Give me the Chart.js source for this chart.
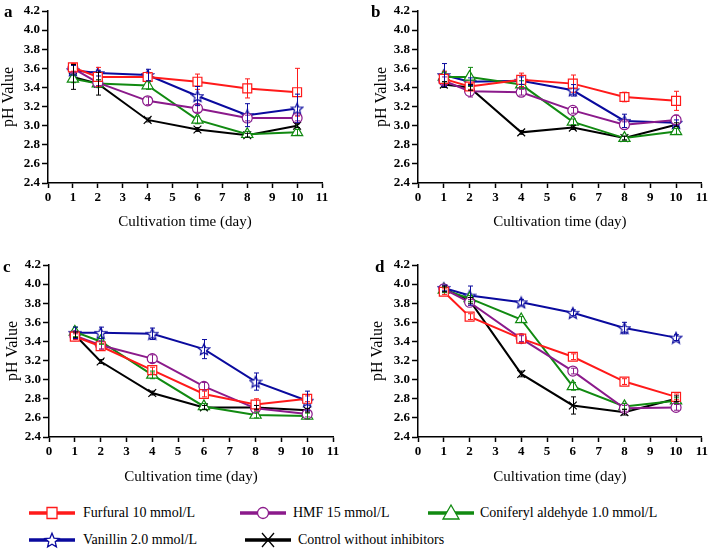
<!DOCTYPE html>
<html>
<head>
<meta charset="utf-8">
<script src="https://cdn.jsdelivr.net/npm/chart.js@4"></script>
<style>
  body { margin: 0; background: #fff; }
  #wrap { position: relative; width: 710px; height: 550px; font-family: "Liberation Serif", "Times New Roman", serif; color: #000; }
  .panel { position: absolute; }
  .tag { position: absolute; font-weight: bold; font-size: 17px; line-height: 17px; }
  .key { position: absolute; }
  .keytext { position: absolute; font-size: 14px; line-height: 20px; white-space: nowrap; }
</style>
</head>
<body>
<div id="wrap">
  <canvas id="pa" class="panel" width="355" height="230" style="left:0;top:0"></canvas>
  <canvas id="pb" class="panel" width="355" height="230" style="left:355px;top:0"></canvas>
  <canvas id="pc" class="panel" width="355" height="255" style="left:0;top:230px"></canvas>
  <canvas id="pd" class="panel" width="355" height="255" style="left:355px;top:230px"></canvas>
  <div class="tag" style="left:4px;top:3px">a</div>
  <div class="tag" style="left:371px;top:3px">b</div>
  <div class="tag" style="left:3px;top:258px">c</div>
  <div class="tag" style="left:375px;top:258px">d</div>
  <div id="legend"></div>
</div>
<script>
// sampling days and axis settings
const days = [1, 2, 4, 6, 8, 10];
const xMin = 0, xMax = 11, xStep = 1;
const yMin = 2.4, yMax = 4.2, yStep = 0.2;
const xTitle = 'Cultivation time (day)';
const yTitle = 'pH Value';

const seriesNames = ['Furfural 10 mmol/L', 'HMF 15 mmol/L', 'Coniferyl aldehyde 1.0 mmol/L',
  'Vanillin 2.0 mmol/L', 'Control without inhibitors'];
const seriesColors = ['#ff1a1a', '#8b1a8b', '#118a11', '#0a0a9e', '#000000'];
const seriesMarkers = ['rect', 'circle', 'triangle', 'star', 'crossRot'];

// order of rows: furfural, HMF, coniferyl, vanillin, control
const valuesA = [
  [3.61, 3.51, 3.51, 3.46, 3.39, 3.35],
  [3.60, 3.45, 3.26, 3.18, 3.08, 3.08],
  [3.49, 3.44, 3.42, 3.06, 2.91, 2.93],
  [3.58, 3.55, 3.53, 3.31, 3.11, 3.18],
  [3.51, 3.44, 3.06, 2.96, 2.90, 3.00]
];
const errorsA = [
  [0.04, 0.10, 0.04, 0.08, 0.10, 0.25],
  [0.04, 0.03, 0.04, 0.04, 0.03, 0.03],
  [0.04, 0.04, 0.04, 0.04, 0.03, 0.03],
  [0.05, 0.03, 0.06, 0.10, 0.12, 0.15],
  [0.13, 0.12, 0.02, 0.02, 0.02, 0.02]
];

const valuesB = [
  [3.49, 3.41, 3.48, 3.44, 3.30, 3.26],
  [3.47, 3.36, 3.35, 3.16, 3.01, 3.06],
  [3.51, 3.51, 3.43, 3.04, 2.87, 2.94],
  [3.53, 3.46, 3.47, 3.37, 3.05, 3.03],
  [3.43, 3.40, 2.93, 2.98, 2.87, 3.01]
];
const errorsB = [
  [0.08, 0.03, 0.07, 0.09, 0.05, 0.10],
  [0.04, 0.06, 0.03, 0.03, 0.03, 0.05],
  [0.05, 0.10, 0.04, 0.03, 0.02, 0.03],
  [0.12, 0.04, 0.04, 0.06, 0.07, 0.03],
  [0.03, 0.03, 0.02, 0.02, 0.02, 0.02]
];

const valuesC = [
  [3.45, 3.35, 3.10, 2.85, 2.74, 2.80],
  [3.46, 3.36, 3.22, 2.93, 2.70, 2.64],
  [3.50, 3.40, 3.05, 2.72, 2.63, 2.62],
  [3.49, 3.49, 3.48, 3.32, 2.98, 2.78],
  [3.47, 3.19, 2.86, 2.71, 2.71, 2.68]
];
const errorsC = [
  [0.03, 0.03, 0.03, 0.03, 0.06, 0.03],
  [0.03, 0.04, 0.04, 0.04, 0.03, 0.03],
  [0.05, 0.03, 0.04, 0.03, 0.03, 0.03],
  [0.06, 0.06, 0.06, 0.10, 0.09, 0.10],
  [0.03, 0.02, 0.02, 0.02, 0.02, 0.02]
];

const valuesD = [
  [3.92, 3.66, 3.43, 3.24, 2.98, 2.82],
  [3.95, 3.81, 3.43, 3.09, 2.70, 2.71],
  [3.94, 3.85, 3.63, 2.93, 2.72, 2.78],
  [3.96, 3.88, 3.81, 3.70, 3.54, 3.44],
  [3.95, 3.83, 3.06, 2.73, 2.66, 2.80]
];
const errorsD = [
  [0.03, 0.03, 0.04, 0.03, 0.03, 0.03],
  [0.03, 0.03, 0.03, 0.03, 0.03, 0.03],
  [0.03, 0.03, 0.03, 0.04, 0.03, 0.03],
  [0.03, 0.10, 0.03, 0.03, 0.06, 0.03],
  [0.03, 0.03, 0.03, 0.09, 0.03, 0.03]
];

const FONT = '"Liberation Serif", "Times New Roman", serif';

// 5 pointed open star, chart.js "star" is an asterisk so make our own
function starPath(g, cx, cy, R) {
  g.beginPath();
  for (let i = 0; i < 10; i++) {
    const a = -Math.PI / 2 + i * Math.PI / 5;
    const rr = i % 2 ? R * 0.45 : R;
    g.lineTo(cx + rr * Math.cos(a), cy + rr * Math.sin(a));
  }
  g.closePath();
}
function starImage(size, color) {
  const c = document.createElement('canvas');
  c.width = c.height = size;
  const g = c.getContext('2d');
  starPath(g, size / 2, size / 2 + 0.7, size / 2 - 1);
  g.fillStyle = '#fff';
  g.fill();
  g.strokeStyle = color;
  g.lineWidth = 1.2;
  g.stroke();
  return c;
}
const starPoint = starImage(14, seriesColors[3]);
const pointSizes = [6.3, 5, 6.5, 6, 5.5];

const errorBars = {
  id: 'errorBars',
  afterDatasetsDraw(chart) {
    const ctx = chart.ctx;
    const x = chart.scales.x, y = chart.scales.y;
    ctx.save();
    ctx.lineWidth = 1;
    chart.data.datasets.forEach(ds => {
      ctx.strokeStyle = ds.borderColor;
      ds.errors.forEach((e, i) => {
        const p = ds.data[i];
        const px = Math.round(x.getPixelForValue(p.x)) + 0.5;
        const top = y.getPixelForValue(p.y + e);
        const bot = y.getPixelForValue(p.y - e);
        ctx.beginPath();
        ctx.moveTo(px, top); ctx.lineTo(px, bot);
        ctx.moveTo(px - 2.5, top); ctx.lineTo(px + 2.5, top);
        ctx.moveTo(px - 2.5, bot); ctx.lineTo(px + 2.5, bot);
        ctx.stroke();
      });
    });
    ctx.restore();
  }
};

function makePanel(id, values, errors, g) {
  const datasets = values.map((vals, s) => ({
    label: seriesNames[s],
    data: vals.map((v, i) => ({ x: days[i], y: v })),
    errors: errors[s],
    borderColor: seriesColors[s],
    borderWidth: 2,
    pointStyle: seriesMarkers[s] === 'star' ? starPoint : seriesMarkers[s],
    pointRadius: pointSizes[s],
    pointBorderWidth: 1.2,
    pointBackgroundColor: '#fff',
    pointBorderColor: seriesColors[s],
    tension: 0
  }));

  const axisCommon = {
    border: { display: true, color: '#000', width: 1.5 },
    grid: { drawOnChartArea: false, drawTicks: true, color: '#000', tickColor: '#000', tickWidth: 1.5 },
  };

  new Chart(document.getElementById(id), {
    type: 'line',
    data: { datasets },
    options: {
      responsive: false,
      animation: false,
      layout: { padding: { top: g.top, right: g.right, left: 0, bottom: 0 } },
      plugins: { legend: { display: false }, tooltip: { enabled: false } },
      scales: {
        x: {
          ...axisCommon,
          type: 'linear',
          min: xMin, max: xMax,
          grid: { ...axisCommon.grid, tickLength: 5 },
          ticks: { stepSize: xStep, color: '#000', padding: 2, maxRotation: 0,
            font: { family: FONT, size: 13, weight: 'bold' } },
          title: { display: true, text: xTitle, color: '#000', padding: { top: g.xt, bottom: 0 },
            font: { family: FONT, size: 15, lineHeight: 1 } },
          afterFit: s => { s.height = g.xh; }
        },
        y: {
          ...axisCommon,
          min: yMin, max: yMax,
          grid: { ...axisCommon.grid, tickLength: 6 },
          ticks: { stepSize: yStep, color: '#000', padding: 2,
            callback: v => v.toFixed(1),
            font: { family: FONT, size: 13, weight: 'bold' } },
          title: { display: true, text: yTitle, color: '#000', padding: { top: g.yt, bottom: 0 },
            font: { family: FONT, size: 16, lineHeight: 1 } },
          afterFit: s => { s.width = g.yw; }
        }
      }
    },
    plugins: [errorBars]
  });
}

makePanel('pa', valuesA, errorsA, { top: 11, right: 33, yw: 48, xh: 47, yt: 1, xt: 2.5 });
makePanel('pb', valuesB, errorsB, { top: 11, right: 7, yw: 63, xh: 47, yt: 19, xt: 2.5 });
makePanel('pc', valuesC, errorsC, { top: 35, right: 22, yw: 49, xh: 48, yt: 5, xt: 3.5 });
makePanel('pd', valuesD, errorsD, { top: 35, right: 7, yw: 63, xh: 48, yt: 15, xt: 5.5 });

// legend at the bottom, line + marker samples
const legendPos = [
  { x: 29, y: 513, tx: 83 },
  { x: 240, y: 513, tx: 293 },
  { x: 428, y: 513, tx: 480 },
  { x: 29, y: 540, tx: 83 },
  { x: 245, y: 540, tx: 298 }
];

function drawKey(g, kind, cx, cy, color) {
  g.strokeStyle = color;
  g.fillStyle = '#fff';
  g.lineWidth = 1.3;
  g.beginPath();
  if (kind === 'rect') {
    g.rect(cx - 5, cy - 5.5, 10, 11);
    g.fill(); g.stroke();
  } else if (kind === 'circle') {
    g.arc(cx, cy, 5.5, 0, Math.PI * 2);
    g.fill(); g.stroke();
  } else if (kind === 'triangle') {
    g.moveTo(cx, cy - 8); g.lineTo(cx + 8, cy + 6); g.lineTo(cx - 8, cy + 6); g.closePath();
    g.fill(); g.stroke();
  } else if (kind === 'star') {
    starPath(g, cx, cy + 0.8, 7.5);
    g.fill(); g.stroke();
  } else {
    g.moveTo(cx - 6, cy - 7); g.lineTo(cx + 6, cy + 7);
    g.moveTo(cx + 6, cy - 7); g.lineTo(cx - 6, cy + 7);
    g.stroke();
  }
}

const legend = document.getElementById('legend');
seriesNames.forEach((name, s) => {
  const p = legendPos[s];
  const c = document.createElement('canvas');
  c.className = 'key';
  c.width = 48; c.height = 20;
  c.style.left = p.x + 'px';
  c.style.top = (p.y - 10) + 'px';
  const g = c.getContext('2d');
  g.strokeStyle = seriesColors[s];
  g.lineWidth = 3.5;
  g.beginPath(); g.moveTo(0, 10); g.lineTo(46, 10); g.stroke();
  drawKey(g, seriesMarkers[s], 23, 10, seriesColors[s]);
  legend.appendChild(c);

  const t = document.createElement('div');
  t.className = 'keytext';
  t.textContent = name;
  t.style.left = p.tx + 'px';
  t.style.top = (p.y - 10) + 'px';
  legend.appendChild(t);
});
</script>
</body>
</html>
